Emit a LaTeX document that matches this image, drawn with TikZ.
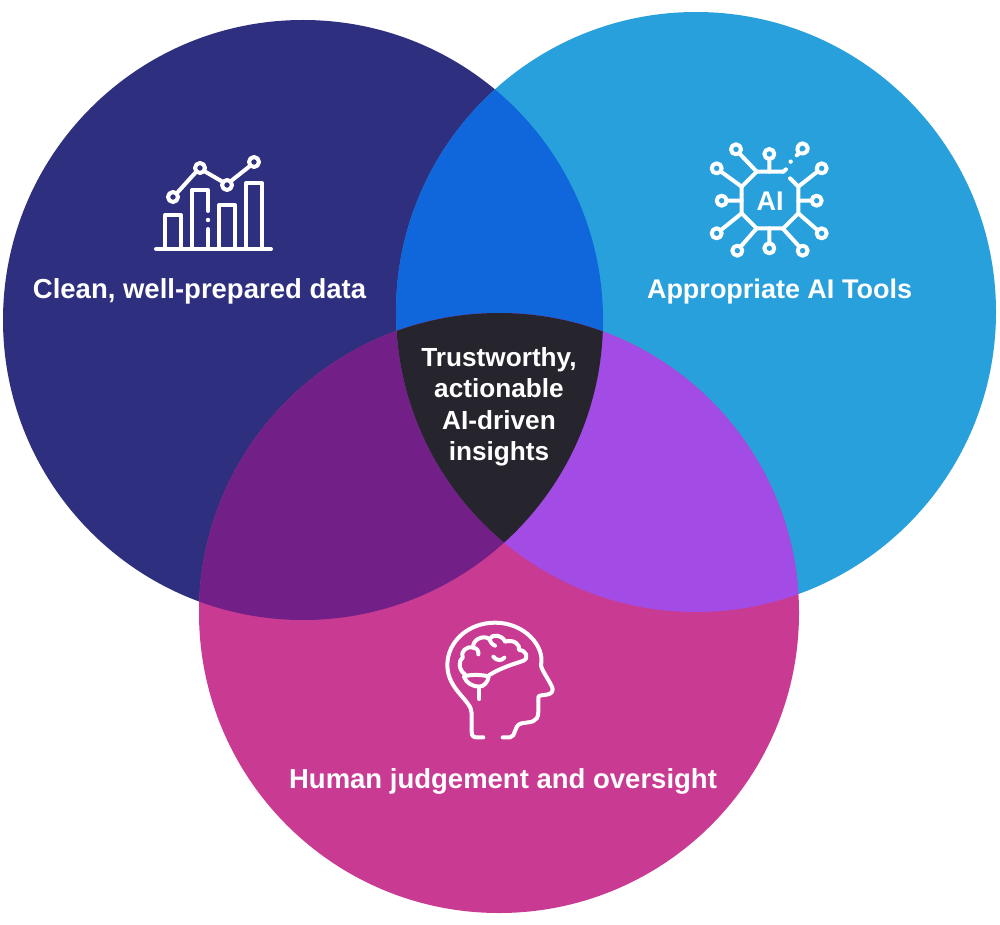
\documentclass[tikz,border=0pt]{standalone}
\usepackage{fontspec}
\setmainfont{Liberation Sans}
\definecolor{cL}{HTML}{2F2F7F}
\definecolor{cR}{HTML}{28A0DC}
\definecolor{cB}{HTML}{C93A92}
\definecolor{cLR}{HTML}{1066DB}
\definecolor{cLB}{HTML}{721F87}
\definecolor{cRB}{HTML}{A34CE5}
\definecolor{cC}{HTML}{26242C}
\tikzset{
  lbl/.style={text=white,font=\bfseries\fontsize{27.5}{27.5}\selectfont,inner sep=0pt,anchor=base},
  lblr/.style={lbl,font=\bfseries\fontsize{27}{27}\selectfont},
  lblc/.style={lbl,font=\bfseries\fontsize{26.2}{26.2}\selectfont},
  ico/.style={draw=white,line width=4pt,line cap=round,line join=round,fill=none},
}
\def\cLeft{(303,320) circle (300)}
\def\cRight{(696,312) circle (300)}
\def\cBot{(499,613) circle (300)}
\begin{document}
\begin{tikzpicture}[x=1pt,y=-1pt]
\useasboundingbox (0,0) rectangle (1000,925);
\fill[cL] \cLeft;
\fill[cR] \cRight;
\fill[cB] \cBot;
\begin{scope}\clip \cLeft; \fill[cLR] \cRight; \end{scope}
\begin{scope}\clip \cLeft; \fill[cLB] \cBot; \end{scope}
\begin{scope}\clip \cRight; \fill[cRB] \cBot; \end{scope}
\begin{scope}\clip \cLeft; \clip \cRight; \fill[cC] \cBot; \end{scope}
% chart icon
\draw[ico] (156,249) -- (271,249);
\draw[ico] (165,249) |- (181,215) -- (181,249);
\draw[ico] (192,249) |- (208,190) -- (208,211);
\draw[ico] (208,229) -- (208,249);
\fill[white] (208,220) circle (2.2);
\draw[ico] (219,249) |- (235,205) -- (235,249);
\draw[ico] (246,249) |- (262,183) -- (262,249);
\draw[ico] (173,197) circle (5) (200,168) circle (5) (227,185) circle (5) (254,162) circle (5);
\draw[ico] (177,193) -- (196,172) (204,171) -- (223,182) (231,181) -- (250,166);
% AI icon
\begin{scope}[shift={(700,130)},x=0.3333pt,y=-0.3333pt]
\draw[ico] (250,125) -- (170,125) -- (125,170) -- (125,250) -- (170,295) -- (250,295) -- (295,250) -- (295,170) -- (270,145);
\draw[ico] (250,125) -- (258,118);
\foreach \a/\b in {108/58,208/72,50/115,365/115,65/212,350/212,50/310,365/310,112/362,208/355,308/362}{
  \draw[ico] (\a,\b) circle (5pt);
}
\draw[ico] (118,70) -- (170,125) (208,87) -- (208,125) (63,125) -- (125,170) (352,125) -- (295,170) (80,212) -- (125,212) (335,212) -- (295,212) (63,300) -- (125,250) (352,300) -- (295,250) (122,350) -- (170,295) (208,340) -- (208,295) (298,350) -- (248,295);
\fill[white] (272,95) circle (6.5);
\draw[ico] (290,76) -- (297,70) .. controls (285,55) and (297,40) .. (308,40) .. controls (325,42) and (330,65) .. (312,70) -- (303,70);
\end{scope}
\node[lbl,font=\bfseries\fontsize{27}{27}\selectfont] (ai) at (770,211) {AI};
% head icon
\begin{scope}[shift={(430,610)},x=0.3333pt,y=-0.3333pt]
\draw[ico] (218,382) -- (240,382) .. controls (258,382) and (250,345) .. (275,340) .. controls (300,335) and (325,340) .. (325,305) -- (325,262) .. controls (325,250) and (368,262) .. (368,238) .. controls (368,225) and (333,180) .. (333,165) .. controls (345,110) and (285,38) .. (195,38) .. controls (115,38) and (52,95) .. (52,165) .. controls (52,240) and (125,270) .. (125,310) -- (125,365) .. controls (125,378) and (130,382) .. (140,382) -- (160,382);
\end{scope}
\begin{scope}[shift={(450,625)},x=0.3333pt,y=-0.3333pt]
% brain outline
\draw[ico] (45,148) .. controls (25,135) and (25,105) .. (38,98) .. controls (30,80) and (50,62) .. (70,68) .. controls (65,45) and (100,28) .. (118,42) .. controls (128,25) and (158,30) .. (165,50) .. controls (190,42) and (212,58) .. (207,75) .. controls (228,75) and (240,100) .. (218,108) .. controls (190,118) and (160,125) .. (118,150);
% cerebellum and stem
\draw[ico] (42,155) .. controls (54,148) and (99,148) .. (116,155) .. controls (114,170) and (102,185) .. (88,185) .. controls (69,185) and (49,175) .. (42,155);
\draw[ico] (88,185) -- (88,222);
% folds
\draw[ico] (70,68) .. controls (82,70) and (86,78) .. (85,88);
\draw[ico] (118,42) .. controls (120,50) and (125,58) .. (135,62);
\draw[ico] (130,95) .. controls (140,108) and (155,108) .. (163,98);
\end{scope}
% labels
\node[lbl] (a) at (199.5,298) {Clean, well-prepared data};
\node[lblr] (b) at (779.5,298) {Appropriate AI Tools};
\node[lbl] (c) at (503,788) {Human judgement and oversight};
\node[lblc] (d1) at (499,366) {Trustworthy,};
\node[lblc] (d2) at (499,397) {actionable};
\node[lblc] (d3) at (499,429) {AI-driven};
\node[lblc] (d4) at (499,460) {insights};
\end{tikzpicture}
\end{document}
